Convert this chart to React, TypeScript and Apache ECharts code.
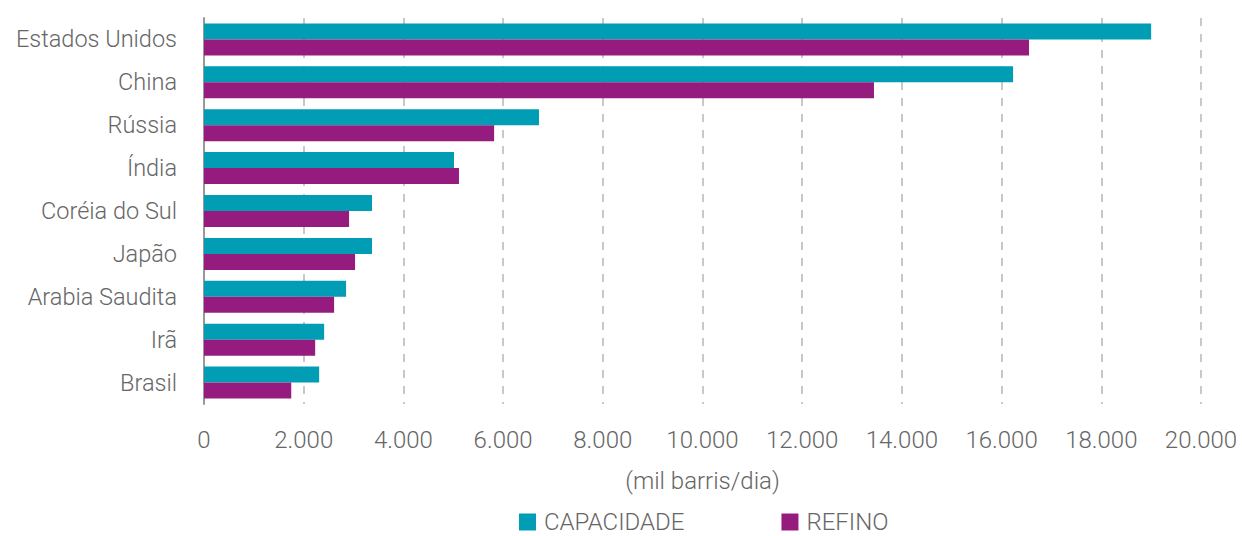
import React, { useEffect, useRef } from "react";
import * as echarts from "echarts";

const categories = [
  "Estados Unidos",
  "China",
  "Rússia",
  "Índia",
  "Coréia do Sul",
  "Japão",
  "Arabia Saudita",
  "Irã",
  "Brasil",
];
const capacidade = [19000, 16230, 6720, 5015, 3370, 3370, 2850, 2410, 2310];
const refino = [16550, 13440, 5820, 5115, 2910, 3030, 2610, 2230, 1750];
const seriesNames = ["CAPACIDADE", "REFINO"];
const axisName = "(mil barris/dia)";

const fmt = (v: number) =>
  v === 0 ? "0" : v.toString().replace(/\B(?=(\d{3})+(?!\d))/g, ".");

export default function App() {
  const ref = useRef<HTMLDivElement>(null);
  useEffect(() => {
    document.body.style.margin = "0";
    const chart = echarts.init(ref.current!, null, { renderer: "svg" });
    const font = "Roboto";
    const txt = { fontFamily: font, fontWeight: 300, color: "#666" };
    chart.setOption({
      animation: false,
      color: ["#009DB5", "#951C7E"],
      grid: { left: 204, right: 41, top: 18, bottom: 132, containLabel: false },
      legend: {
        top: 505,
        left: 514,
        itemWidth: 17,
        itemHeight: 17,
        itemGap: 97,
        icon: "rect",
        textStyle: { ...txt, fontSize: 24, padding: [0, 0, 0, 3] },
        data: seriesNames,
      },
      xAxis: {
        type: "value",
        min: 0,
        max: 20000,
        interval: 2000,
        name: axisName,
        nameLocation: "middle",
        nameGap: 65,
        nameTextStyle: { ...txt, fontSize: 24 },
        axisLine: { show: false },
        axisTick: { show: false },
        axisLabel: {
          formatter: fmt,
          margin: 24,
          ...txt,
          fontSize: 24,
        },
        splitLine: {
          show: true,
          lineStyle: { color: "#c8c8c8", width: 2, type: [8, 8] },
        },
      },
      yAxis: {
        type: "category",
        data: categories,
        inverse: true,
        axisLine: { show: true, lineStyle: { color: "#999", width: 2 } },
        axisTick: { show: false },
        axisLabel: {
          margin: 27,
          ...txt,
          fontSize: 23.5,
        },
      },
      series: [
        {
          name: seriesNames[0],
          type: "bar",
          data: capacidade,
          barWidth: 16,
          barGap: "0%",
        },
        {
          name: seriesNames[1],
          type: "bar",
          data: refino,
          barWidth: 16,
          barGap: "0%",
        },
      ],
    });
    return () => chart.dispose();
  }, []);
  return <div ref={ref} style={{ width: 1242, height: 536 }} />;
}
